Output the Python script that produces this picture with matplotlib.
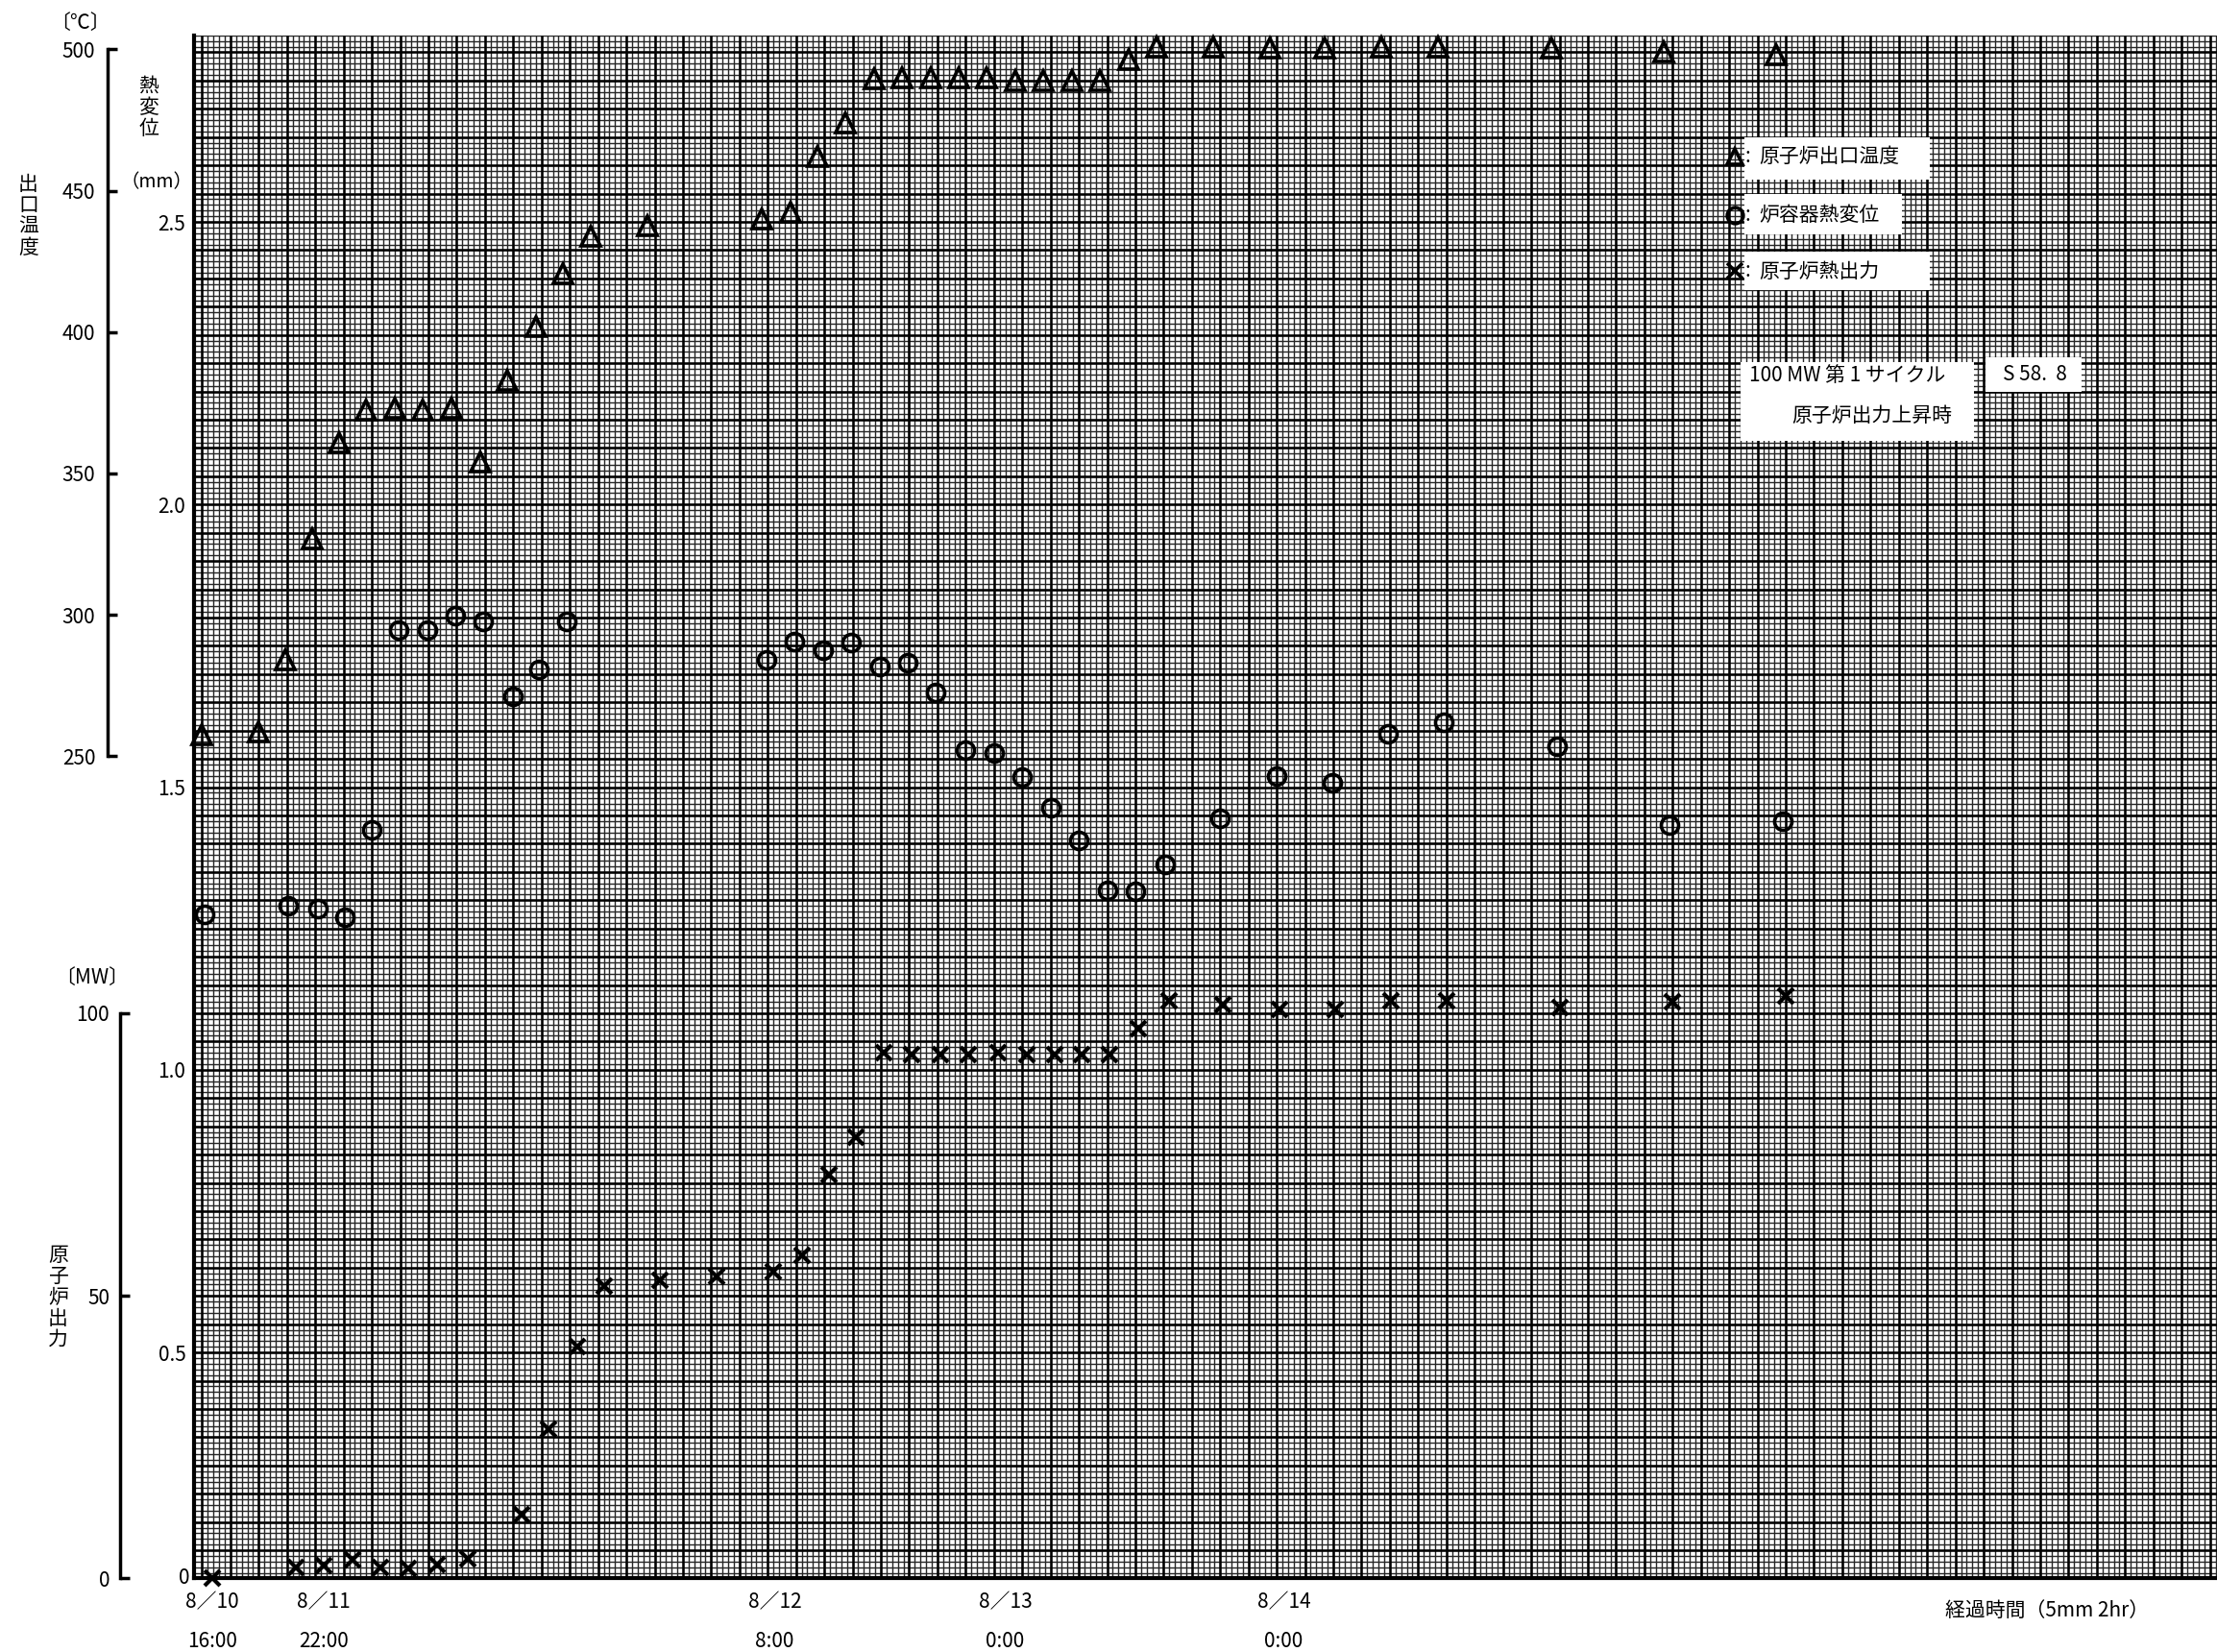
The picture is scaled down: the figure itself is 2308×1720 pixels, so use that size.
import numpy as np
import matplotlib
matplotlib.use("Agg")
import matplotlib.pyplot as plt
from matplotlib.patches import Rectangle
from matplotlib.lines import Line2D

plt.rcParams['font.family'] = ['Noto Sans CJK JP', 'DejaVu Sans']

# --- data (x = elapsed hours from 8/10 16:00) ---
temp_hours = [0, 4, 5.9, 7.8, 9.7, 11.6, 13.6, 15.6, 17.6, 19.7, 21.6, 23.6, 25.5, 27.5,
              31.5, 39.6, 41.6, 43.5, 45.5, 47.5, 49.5, 51.5, 53.5, 55.5, 57.5, 59.5,
              61.5, 63.5, 65.5, 67.5, 71.5, 75.5, 79.4, 83.4, 87.4, 95.4, 103.4, 111.3]
temp_values = [257.5, 258.5, 284, 327, 361, 372.5, 373, 372.5, 373, 354, 383, 402, 420.5, 434,
               437.5, 440, 442.5, 462, 474, 489.5, 490, 490, 490, 490, 489, 489,
               489, 489, 496.5, 501, 501, 500.5, 500.5, 501, 501, 500.5, 499, 498]

disp_hours = [0.2, 6.1, 8.2, 10.1, 12.0, 13.9, 15.9, 17.9, 19.9, 22.0, 23.8, 25.8,
              39.9, 41.9, 43.9, 45.9, 47.9, 49.9, 51.9, 54.0, 56.0, 58.0, 60.0, 62.0,
              64.0, 66.0, 68.1, 72.0, 76.0, 79.9, 83.9, 87.8, 95.8, 103.8, 111.8]
disp_values = [1.275, 1.29, 1.285, 1.27, 1.425, 1.778, 1.778, 1.803, 1.793, 1.66, 1.708, 1.793,
               1.725, 1.758, 1.743, 1.755, 1.713, 1.72, 1.668, 1.565, 1.56, 1.518, 1.463, 1.405,
               1.318, 1.315, 1.363, 1.445, 1.52, 1.508, 1.595, 1.615, 1.573, 1.433, 1.44]

power_hours = [0.7, 6.6, 8.6, 10.6, 12.6, 14.6, 16.6, 18.8, 22.6, 24.5, 26.5, 28.4,
               32.4, 36.4, 40.4, 42.4, 44.3, 46.2, 48.2, 50.2, 52.2, 54.2, 56.3, 58.3,
               60.3, 62.2, 64.2, 66.2, 68.4, 72.2, 76.2, 80.1, 84.1, 88.0, 96.0, 104.0, 112.0]
power_values = [0, 2, 2.25, 3.25, 2, 1.75, 2.5, 3.5, 11.25, 26.5, 41, 51.75,
                52.75, 53.5, 54.25, 57.25, 71.5, 78, 93, 92.75, 92.75, 92.75, 93, 92.75,
                92.75, 92.75, 92.75, 97.25, 102.25, 101.5, 100.75, 100.75, 102.25, 102.25, 101, 102, 103]

temp_ticks = [250, 300, 350, 400, 450, 500]
disp_ticks = [0.5, 1.0, 1.5, 2.0, 2.5]
power_ticks = [0, 50, 100]

date_hours = [0.7, 8.6, 40.5, 56.8, 76.5]
date_labels = ["8／10\n16:00", "8／11\n22:00", "8／12\n8:00", "8／13\n0:00", "8／14\n0:00"]

legend_labels = ["原子炉出口温度", "炉容器熱変位", "原子炉熱出力"]

W, H = 1568.0, 1169.0
def fx(x):
    return x / W
def fy(y):
    return 1 - y / H

fig = plt.figure(figsize=(23.08, 17.2), dpi=100)
fig.patch.set_facecolor('white')

L, R, B, T = fx(137), 1.0, fy(1117), fy(25)
TEMP_LIM = (-41, 505)
POWER_LIM = (0, (1117 - 25) / 4.0)

ax = fig.add_axes([L, B, R - L, T - B])
ax.set_xlim(-0.6, 142.5)
ax.set_ylim(0.1, 2.83)

# graph paper
x0, x1 = ax.get_xlim()
y0, y1 = ax.get_ylim()
fine_x = np.arange(0, 142.6, 0.4)
fine_y = np.arange(0.1, 2.84, 0.01)
ax.vlines(fine_x, y0, y1, colors='#262626', lw=1.0, zorder=1)
ax.hlines(fine_y, x0, x1, colors='#262626', lw=1.0, zorder=1)
ax.vlines(np.arange(0, 142.6, 2), y0, y1, colors='black', lw=1.8, zorder=1.5)
ax.hlines(np.arange(0.1, 2.84, 0.05), x0, x1, colors='black', lw=1.8, zorder=1.5)

for s in ['top', 'right']:
    ax.spines[s].set_visible(False)
ax.spines['left'].set_linewidth(3)
ax.spines['bottom'].set_linewidth(3)
ax.set_xticks(date_hours)
ax.set_xticklabels(date_labels, fontsize=15, linespacing=2.1)
ax.tick_params(axis='x', length=0, pad=10)
ax.set_yticks(disp_ticks)
ax.set_yticklabels([f"{v:.1f}" for v in disp_ticks], fontsize=15)
ax.tick_params(axis='y', length=0, pad=6)
ax.text(-0.002, 0.0, "0", transform=ax.transAxes, ha='right', va='center', fontsize=15)

# overlay axes for the other two quantities
ax_t = ax.twinx()
ax_t.set_ylim(*TEMP_LIM)
ax_p = ax.twinx()
ax_p.set_ylim(*POWER_LIM)
for a in (ax_t, ax_p):
    a.set_axis_off()

ax_t.plot(temp_hours, temp_values, linestyle='none', marker='^', ms=15,
          mfc='none', mec='black', mew=2.6, clip_on=False, zorder=5)
ax.plot(disp_hours, disp_values, linestyle='none', marker='o', ms=13,
        mfc='none', mec='black', mew=2.6, clip_on=False, zorder=5)
ax_p.plot(power_hours, power_values, linestyle='none', marker='x', ms=12,
          mec='black', mew=3.0, clip_on=False, zorder=5)

# temperature scale at far left
ax_ts = fig.add_axes([fx(76), B, 0.0001, T - B])
ax_ts.set_ylim(*TEMP_LIM)
ax_ts.patch.set_visible(False)
for s in ['top', 'right', 'bottom']:
    ax_ts.spines[s].set_visible(False)
ax_ts.spines['left'].set_bounds(250, 500)
ax_ts.spines['left'].set_linewidth(2.5)
ax_ts.set_xticks([])
ax_ts.set_yticks(temp_ticks)
ax_ts.set_yticklabels([str(v) for v in temp_ticks], fontsize=15)
ax_ts.tick_params(axis='y', direction='in', length=7, width=2.5, pad=9)

# power scale
ax_ps = fig.add_axes([fx(85), B, 0.0001, T - B])
ax_ps.set_ylim(*POWER_LIM)
ax_ps.patch.set_visible(False)
for s in ['top', 'right', 'bottom']:
    ax_ps.spines[s].set_visible(False)
ax_ps.spines['left'].set_bounds(0, 100)
ax_ps.spines['left'].set_linewidth(2.5)
ax_ps.set_xticks([])
ax_ps.set_yticks(power_ticks)
ax_ps.set_yticklabels([str(v) for v in power_ticks], fontsize=15)
ax_ps.tick_params(axis='y', direction='in', length=7, width=2.5, pad=8)

# axis captions
fig.text(fx(57), fy(16), "〔℃〕", ha='center', va='center', fontsize=15)
fig.text(fx(20), fy(153), "\n".join("出口温度"), ha='center', va='center',
         fontsize=15, linespacing=1.0)
fig.text(fx(105), fy(76), "\n".join("熱変位"), ha='center', va='center',
         fontsize=15, linespacing=1.0)
fig.text(fx(111), fy(129), "（mm）", ha='center', va='center', fontsize=14)
fig.text(fx(65), fy(692), "〔MW〕", ha='center', va='center', fontsize=15)
fig.text(fx(41), fy(918), "\n".join("原子炉出力"), ha='center', va='center',
         fontsize=15, linespacing=1.0)
fig.text(fx(1448), fy(1140), "経過時間（5mm 2hr）", ha='center', va='center', fontsize=15)

# legend on the graph paper
legend_rows = [111, 152, 192]
legend_markers = ['^', 'o', 'x']
box_rows = [(97, 127, 1365), (137, 166, 1345), (178, 205, 1365)]
for (ytop, ybot, xr) in box_rows:
    fig.add_artist(Rectangle((fx(1234), fy(ybot)), fx(xr) - fx(1234), fy(ytop) - fy(ybot),
                             transform=fig.transFigure, facecolor='white',
                             edgecolor='none', zorder=3))
for yy, mk, lab in zip(legend_rows, legend_markers, legend_labels):
    fig.add_artist(Line2D([fx(1227)], [fy(yy)], transform=fig.transFigure, marker=mk,
                          ms=12, mfc='none', mec='black', mew=2.6, zorder=4))
    fig.text(fx(1236), fy(yy), ":", ha='center', va='center', fontsize=15, zorder=5)
    fig.text(fx(1244), fy(yy), lab, ha='left', va='center', fontsize=15, zorder=5)

# info boxes
fig.add_artist(Rectangle((fx(1231), fy(312)), fx(1396) - fx(1231), fy(256) - fy(312),
                         transform=fig.transFigure, facecolor='white', edgecolor='none', zorder=3))
fig.add_artist(Rectangle((fx(1404), fy(277)), fx(1472) - fx(1404), fy(253) - fy(277),
                         transform=fig.transFigure, facecolor='white', edgecolor='none', zorder=3))
fig.text(fx(1237), fy(266), "100 MW 第 1 サイクル", ha='left', va='center', fontsize=15, zorder=5)
fig.text(fx(1381), fy(294), "原子炉出力上昇時", ha='right', va='center', fontsize=15, zorder=5)
fig.text(fx(1439), fy(265), "S 58.  8", ha='center', va='center', fontsize=15, zorder=5)

fig.savefig("out.png", dpi=100)
